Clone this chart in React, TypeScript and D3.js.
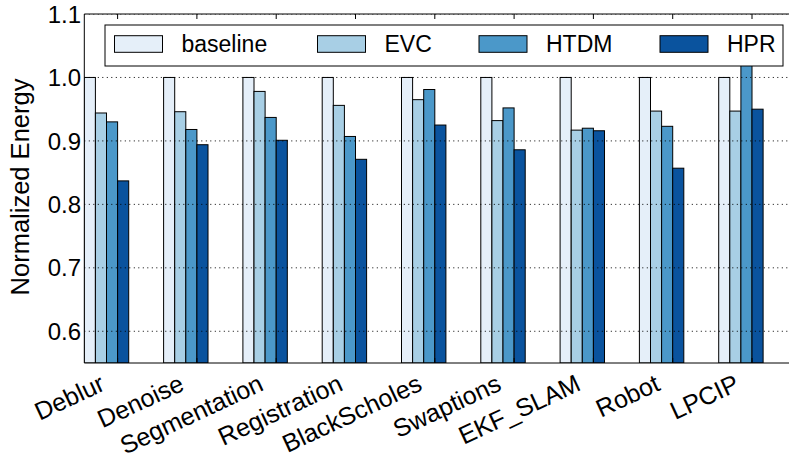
import React from "react";
import * as d3 from "d3";

const categories = ["Deblur", "Denoise", "Segmentation", "Registration", "BlackScholes", "Swaptions", "EKF_SLAM", "Robot", "LPCIP"];
const seriesNames = ["baseline", "EVC", "HTDM", "HPR"];
const baseline = [1, 1, 1, 1, 1, 1, 1, 1, 1];
const evc = [0.944, 0.946, 0.978, 0.956, 0.965, 0.932, 0.917, 0.947, 0.947];
const htdm = [0.930, 0.918, 0.937, 0.907, 0.981, 0.952, 0.920, 0.923, 1.04];
const hpr = [0.837, 0.894, 0.901, 0.871, 0.925, 0.886, 0.916, 0.857, 0.950];
const colors = ["#e5eff9", "#a8cfe5", "#4b98c9", "#0a539e"];
const yTicks = [0.6, 0.7, 0.8, 0.9, 1.0, 1.1];

const W = 789;
const H = 457;
const FONT = "'Liberation Sans', Arial, Helvetica, sans-serif";

export default function App() {
  const series = [baseline, evc, htdm, hpr];
  const x = d3.scaleLinear().domain([0, 9]).range([84.3, 798]);
  const y = d3.scaleLinear().domain([0.55, 1.1]).range([363, 14]);
  const bw = 0.14;
  const top = y(1.1);
  const bottom = y(0.55);
  const left = x(0);
  const right = x(9);
  const rot = 25;
  const xFont = 25;
  const asc = xFont * 0.73;
  const sin = Math.sin((rot * Math.PI) / 180);
  const cos = Math.cos((rot * Math.PI) / 180);

  return (
    <svg width={W} height={H} style={{ position: "absolute", left: 0, top: 0, display: "block" }} fontFamily={FONT}>
      <rect x={0} y={0} width={W} height={H} fill="#ffffff" />
      <defs>
        <clipPath id="plot">
          <rect x={left} y={top} width={right - left} height={bottom - top} />
        </clipPath>
      </defs>
      <g clipPath="url(#plot)">
        {categories.map((c, i) =>
          series.map((s, k) => (
            <rect
              key={c + k}
              x={x(i + k * bw)}
              y={y(s[i])}
              width={x(bw) - x(0)}
              height={bottom - y(s[i])}
              fill={colors[k]}
              stroke="#000"
              strokeWidth={1}
            />
          ))
        )}
        {yTicks.map((t) => (
          <line key={t} x1={left} x2={right} y1={y(t)} y2={y(t)} stroke="#000" strokeWidth={1} strokeDasharray="1,3.5" />
        ))}
      </g>
      {/* spines */}
      <line x1={left} x2={right} y1={top} y2={top} stroke="#000" strokeWidth={1} />
      <line x1={left} x2={right} y1={bottom} y2={bottom} stroke="#000" strokeWidth={1} />
      <line x1={left} x2={left} y1={top} y2={bottom} stroke="#000" strokeWidth={1} />
      {/* x ticks */}
      {categories.map((c, i) => (
        <g key={"t" + c}>
          <line x1={x(i + 3 * bw)} x2={x(i + 3 * bw)} y1={top} y2={top + 5} stroke="#000" strokeWidth={1} />
          <line x1={x(i + 3 * bw)} x2={x(i + 3 * bw)} y1={bottom} y2={bottom - 5} stroke="#000" strokeWidth={1} />
        </g>
      ))}
      {/* y tick labels */}
      {yTicks.map((t) => (
        <text key={"yl" + t} x={81} y={y(t)} dy="0.36em" textAnchor="end" fontSize={24} fill="#000">
          {t.toFixed(1)}
        </text>
      ))}
      {/* x labels */}
      {categories.map((c, i) => {
        const tx = x(i + 3 * bw) - asc * sin - 3.5;
        const ty = bottom + 10 + asc * cos;
        return (
          <text key={"xl" + c} x={tx} y={ty} textAnchor="end" fontSize={xFont} fill="#000" transform={`rotate(-${rot},${tx},${ty})`}>
            {c}
          </text>
        );
      })}
      {/* y label */}
      <text x={0} y={0} transform={`translate(29,187) rotate(-90)`} textAnchor="middle" fontSize={25.5} fill="#000">
        Normalized Energy
      </text>
      {/* legend */}
      <rect x={105} y={25} width={678} height={41} fill="#fff" stroke="#000" strokeWidth={1} />
      {seriesNames.map((n, k) => {
        const px = [114.5, 317.5, 479, 660][k];
        return (
          <g key={"lg" + n}>
            <rect x={px} y={35.7} width={48} height={16.6} fill={colors[k]} stroke="#000" strokeWidth={1} />
            <text x={px + 67} y={44} dy="0.36em" fontSize={23} fill="#000">
              {n}
            </text>
          </g>
        );
      })}
    </svg>
  );
}
